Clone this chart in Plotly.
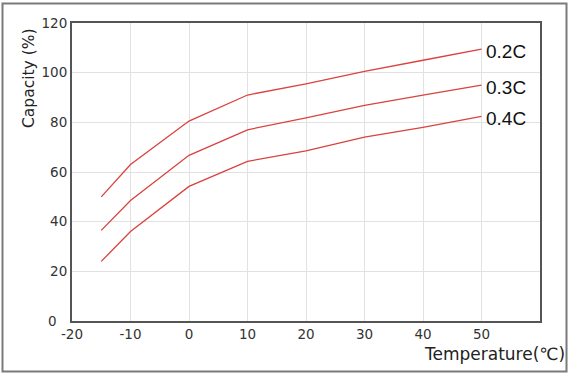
import plotly.graph_objects as go

temps = [-15, -10, 0, 10, 20, 30, 40, 50]
cap_02C = [50, 63, 80.5, 91, 95.5, 100.5, 105, 109.5]
cap_03C = [36.5, 48.5, 66.7, 77, 81.8, 86.8, 91, 95]
cap_04C = [24, 36, 54.2, 64.3, 68.5, 74, 78, 82.4]
series_names = ["0.2C", "0.3C", "0.4C"]
x_ticks = [-20, -10, 0, 10, 20, 30, 40, 50]
y_ticks = [0, 20, 40, 60, 80, 100, 120]

W, H = 569, 374
L, R, T, B = 72, 29, 23, 53
pw, ph = W - L - R, H - T - B
tick_font = dict(family="DejaVu Sans", size=13.5, color="#333")

fig = go.Figure()
for name, vals in zip(series_names, [cap_02C, cap_03C, cap_04C]):
    fig.add_trace(go.Scatter(x=temps, y=vals, mode="lines", name=name,
                             line=dict(color="#d9423f", width=1.3)))
    fig.add_annotation(x=temps[-1], y=vals[-1], text=name, showarrow=False,
                       xanchor="left", yanchor="middle", xshift=2, yshift=-2,
                       font=dict(family="Liberation Sans, Arial", size=19, color="#111"))

def px2paper_x(px):
    return (px - L) / pw

def px2paper_y(py):
    return (H - B - py) / ph

fig.add_shape(type="rect", xref="paper", yref="paper",
              x0=px2paper_x(2.5), x1=px2paper_x(566.5),
              y0=px2paper_y(371.5), y1=px2paper_y(3.5),
              line=dict(color="#7a7a7a", width=2), layer="below")

fig.add_annotation(xref="paper", yref="paper", x=px2paper_x(29), y=px2paper_y(78),
                   text="Capacity (%)", textangle=-90, showarrow=False,
                   xanchor="center", yanchor="middle",
                   font=dict(family="DejaVu Sans", size=15.5, color="#222"))
fig.add_annotation(xref="paper", yref="paper", x=px2paper_x(567), y=px2paper_y(354),
                   text="Temperature(℃)", showarrow=False,
                   xanchor="right", yanchor="middle",
                   font=dict(family="DejaVu Sans", size=17, color="#222"))

# zero label of the y axis sits slightly further left, as in the reference
y_shown = [v for v in y_ticks if v != 0]
fig.add_annotation(xref="paper", yref="y", x=px2paper_x(59), y=y_ticks[0],
                   text=str(y_ticks[0]), showarrow=False,
                   xanchor="right", yanchor="middle", font=tick_font)

axis_common = dict(showgrid=True, gridcolor="#e2e2e2", gridwidth=1,
                   showline=True, linecolor="#555", linewidth=2, mirror=True,
                   zeroline=False, ticks="", tickfont=tick_font)

fig.update_xaxes(range=[-20, 60], tickvals=x_ticks, ticktext=[str(v) for v in x_ticks],
                 **axis_common)
fig.update_yaxes(range=[0, 120], tickvals=y_shown, ticktext=[str(v) for v in y_shown],
                 **axis_common)
# keep the gridline at y=0 drawn by the axis line itself
fig.update_layout(width=W, height=H, showlegend=False,
                  margin=dict(l=L, r=R, t=T, b=B),
                  paper_bgcolor="white", plot_bgcolor="white")

fig.write_html("out.html")
